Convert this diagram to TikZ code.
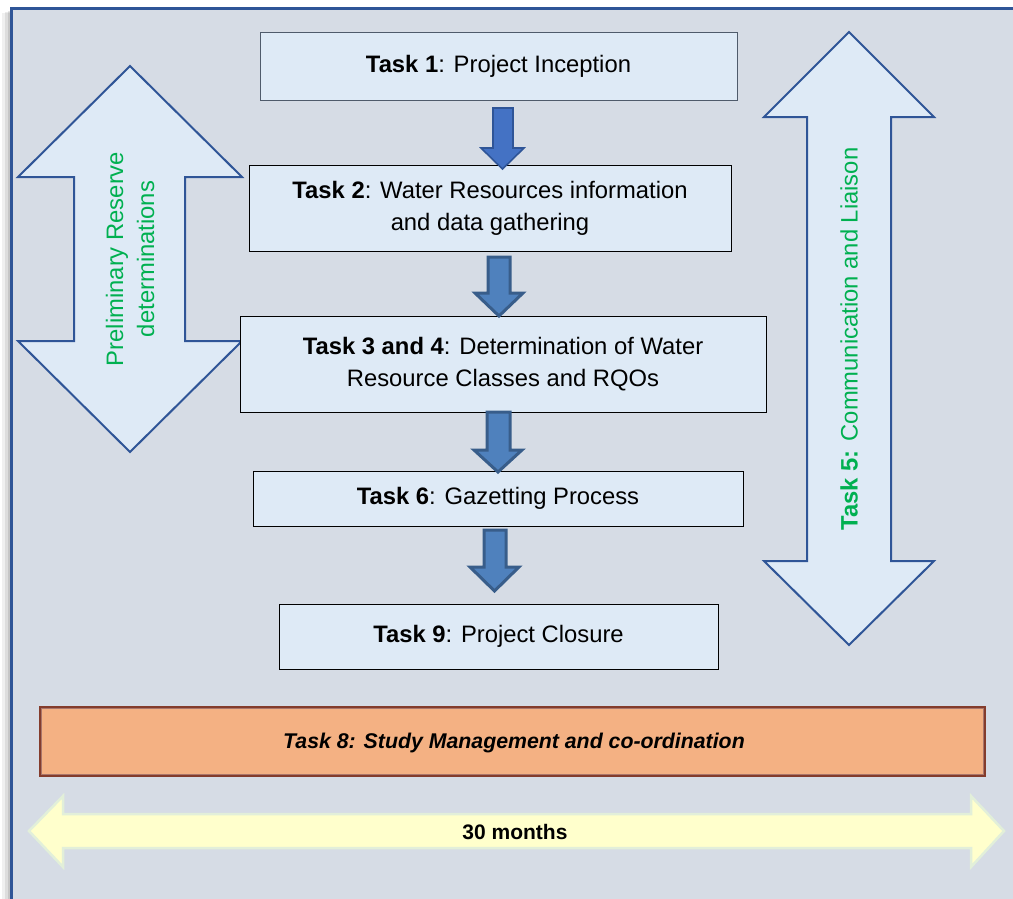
\documentclass[tikz,border=0pt]{standalone}
\usepackage{fontspec}
\setmainfont{Liberation Sans}
\definecolor{framefill}{HTML}{D6DCE5}
\definecolor{frameblue}{HTML}{2F5597}
\definecolor{boxfill}{HTML}{DEEAF6}
\definecolor{boxgray}{HTML}{4F5B6B}
\definecolor{arrowfillA}{HTML}{4472C4}
\definecolor{arrowfillB}{HTML}{4F81BD}
\definecolor{arrowedgeB}{HTML}{385D8A}
\definecolor{mgmtfill}{HTML}{F4B183}
\definecolor{mgmtedge}{HTML}{843C2C}
\definecolor{timefill}{HTML}{FFFFCC}
\definecolor{timeedge}{HTML}{E2EFD9}
\definecolor{greentext}{HTML}{00B050}
\begin{document}
\begin{tikzpicture}[x=1pt,y=-1pt,
  taskbox/.style={draw=black, line width=0.9pt, fill=boxfill, inner sep=0pt, align=center,
    font=\fontsize{23.8}{32}\selectfont},
  bigarrow/.style={draw=frameblue, line width=2pt, fill=boxfill, line join=miter},
  flowA/.style={draw=frameblue, line width=1.6pt, fill=arrowfillA, line join=miter},
  flowB/.style={draw=arrowedgeB, line width=3pt, fill=arrowfillB, line join=miter},
  sidelabel/.style={text=greentext, align=center, rotate=90, inner sep=0pt,
    font=\fontsize{23.8}{31}\selectfont}]
\useasboundingbox (0,0) rectangle (1013,898);
% frame with shadow
\fill[black, opacity=0.06] (2,13) rectangle (10,910);
\fill[black, opacity=0.08] (5,12) rectangle (10,910);
\fill[black, opacity=0.10] (8,11) rectangle (10,910);
\fill[framefill] (11,8) rectangle (1030,920);
\draw[draw=frameblue, line width=3pt, line cap=rect] (11.5,910) -- (11.5,8.5) -- (1030,8.5);

% big double arrows
\draw[bigarrow] (130,66) -- (242,177) -- (185,177) -- (185,341) -- (242,341) -- (130,452)
  -- (18,341) -- (74,341) -- (74,177) -- (18,177) -- cycle;
\node[sidelabel] (prelim) at (130,259) {Preliminary Reserve\\determinations};

\draw[bigarrow] (849,32) -- (934,117) -- (891,117) -- (891,561) -- (934,561) -- (849,645)
  -- (764,561) -- (807,561) -- (807,117) -- (764,117) -- cycle;
\node[sidelabel] (comm) at (849,339) {\textbf{Task 5:} Communication and Liaison};

% task boxes
\node[taskbox, draw=boxgray, minimum width=477, minimum height=68] (t1) at (498.5,66)
  {\textbf{Task 1}: Project Inception};
\node[taskbox, minimum width=482, minimum height=86] (t2) at (490,208)
  {\textbf{Task 2}: Water Resources information\\and data gathering};
\node[taskbox, minimum width=526, minimum height=96] (t3) at (503,364)
  {\textbf{Task 3 and 4}: Determination of Water\\Resource Classes and RQOs};
\node[taskbox, minimum width=490, minimum height=55] (t6) at (498,498.5)
  {\textbf{Task 6}: Gazetting Process};
\node[taskbox, minimum width=439, minimum height=65] (t9) at (498.5,636.5)
  {\textbf{Task 9}: Project Closure};

% flow arrows between boxes
\draw[flowA] (493,108) -- (513,108) -- (513,148) -- (524,148) -- (502.5,169) -- (481,148) -- (493,148) -- cycle;
\draw[flowB] (488,257) -- (510,257) -- (510,293) -- (523,293) -- (499,316) -- (475,293) -- (488,293) -- cycle;
\draw[flowB] (487,412) -- (510,412) -- (510,450) -- (522,450) -- (498,472) -- (474,450) -- (487,450) -- cycle;
\draw[flowB] (484,530) -- (506,530) -- (506,567) -- (519,567) -- (494.5,591) -- (470,567) -- (484,567) -- cycle;

% management box
\draw[draw=mgmtedge, line width=2.5pt, fill=mgmtfill] (40,707) rectangle (985,776);
\draw[draw=mgmtedge!70!white, line width=0.8pt] (41.5,708.5) rectangle (983.5,774.5);
\node[inner sep=0pt, font=\fontsize{21.3}{26}\selectfont\bfseries\itshape] (t8) at (514,743)
  {Task 8: Study Management and co-ordination};

% time arrow
\draw[draw=timeedge, line width=2.5pt, fill=timefill, line join=miter]
  (29,831) -- (63,796) -- (63,814) -- (971,814) -- (971,796) -- (1004,831)
  -- (971,867) -- (971,848) -- (63,848) -- (63,867) -- cycle;
\node[inner sep=0pt, font=\fontsize{21}{25}\selectfont\bfseries] (months) at (515,832) {30 months};
\end{tikzpicture}
\end{document}
